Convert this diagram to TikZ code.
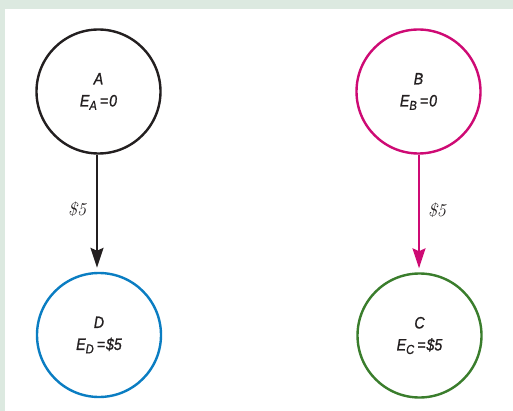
\documentclass[tikz,border=0pt]{standalone}
\usepackage{fontspec}
\newfontfamily\cond[FakeStretch=0.86,FakeBold=1]{Liberation Sans}
\usetikzlibrary{arrows.meta}
\definecolor{frame}{HTML}{DCE9E0}
\definecolor{cblack}{HTML}{231F20}
\definecolor{cmag}{HTML}{CE0A74}
\definecolor{cblue}{HTML}{0A7DC2}
\definecolor{cgreen}{HTML}{3A7D2C}
\newcommand{\lowsub}[1]{\raisebox{-3.5pt}{\fontsize{13}{13}\selectfont #1}}
\tikzset{
  state/.style={circle, draw, line width=2.4pt, minimum size=124pt, inner sep=0pt,
    align=center, font=\cond\itshape\fontsize{16.5}{22}\selectfont, text=cblack},
  flow/.style={line width=2pt, shorten >=4pt, -{Stealth[length=20pt,width=13pt,inset=3pt]}},
  amt/.style={font=\itshape\fontsize{18}{20}\selectfont, text=cblack, inner sep=0pt}
}
\begin{document}
\begin{tikzpicture}[x=1pt,y=-1pt]
\fill[frame] (0,0) rectangle (513,411);
\fill[white] (5,9) rectangle (513,411);
\useasboundingbox (0,0) rectangle (513,411);
\node[state, draw=cblack] (A) at (98.5,91.5) {A\\E\lowsub{A}\hspace{3pt}=\hspace{1pt}0};
\node[state, draw=cmag] (B) at (418.5,91.5) {B\\E\lowsub{B}\hspace{3pt}=\hspace{1pt}0};
\node[state, draw=cblue] (D) at (99,335) {D\\E\lowsub{D}\hspace{3pt}=\hspace{1pt}\$5};
\node[state, draw=cgreen] (C) at (419.5,335.5) {C\\E\lowsub{C}\hspace{3pt}=\hspace{1pt}\$5};
\draw[flow, cblack] (A.south -| 97,0) -- (D.north -| 97,0) node[pos=0.47, amt, left=10pt] {\$5};
\draw[flow, cmag] (B.south -| 419,0) -- (C.north -| 419,0) node[pos=0.47, amt, right=8pt] {\$5};
\end{tikzpicture}
\end{document}
